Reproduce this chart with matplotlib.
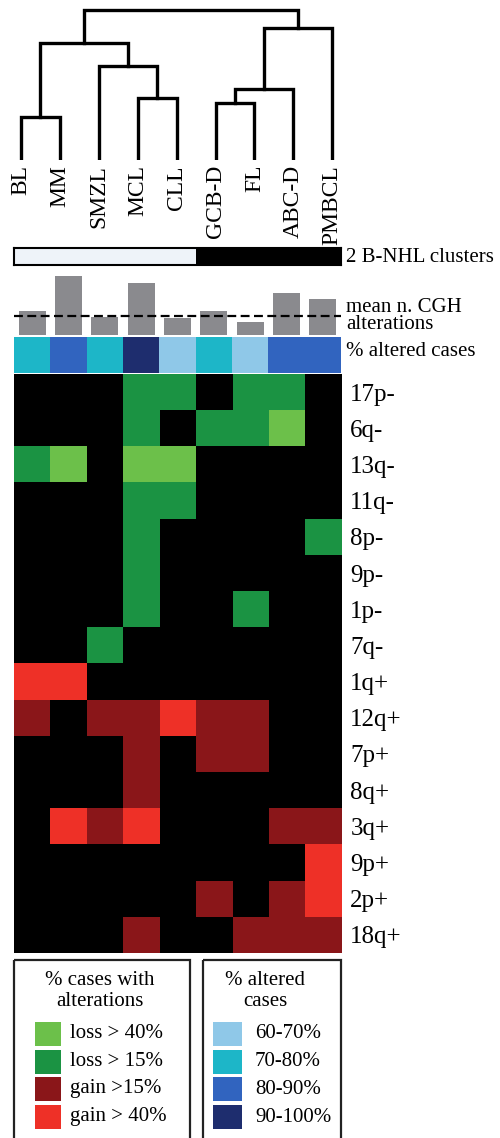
import numpy as np
import matplotlib
matplotlib.use("Agg")
import matplotlib.pyplot as plt
from matplotlib.colors import ListedColormap
from matplotlib.patches import Rectangle

W, H = 500, 1138
SERIF = ["Liberation Serif", "DejaVu Serif"]

subtypes = ["BL", "MM", "SMZL", "MCL", "CLL", "GCB-D", "FL", "ABC-D", "PMBCL"]

# dendrogram merges: (left node, right node, height); node ids >= 9 are earlier merges
merges = [
    (0, 1, 43),
    (3, 4, 62),
    (2, 10, 94),
    (9, 11, 117),
    (5, 6, 57),
    (13, 7, 71),
    (14, 8, 132),
    (12, 15, 150),
]

clusters = [0, 0, 0, 0, 0, 1, 1, 1, 1]
mean_cgh = [3.7, 9.1, 2.8, 8.0, 2.6, 3.7, 2.0, 6.5, 5.5]
mean_line = 2.9

# 0: 60-70%, 1: 70-80%, 2: 80-90%, 3: 90-100%
altered_class = [1, 2, 1, 3, 0, 1, 0, 2, 2]
altered_labels = ["60-70%", "70-80%", "80-90%", "90-100%"]
altered_colors = ["#8fc8e8", "#1db6c8", "#3164bf", "#1e2d6e"]

alterations = ["17p-", "6q-", "13q-", "11q-", "8p-", "9p-", "1p-", "7q-",
               "1q+", "12q+", "7p+", "8q+", "3q+", "9p+", "2p+", "18q+"]
# 0: none, 1: loss > 40%, 2: loss > 15%, 3: gain > 15%, 4: gain > 40%
matrix = [
    [0, 0, 0, 2, 2, 0, 2, 2, 0],
    [0, 0, 0, 2, 0, 2, 2, 1, 0],
    [2, 1, 0, 1, 1, 0, 0, 0, 0],
    [0, 0, 0, 2, 2, 0, 0, 0, 0],
    [0, 0, 0, 2, 0, 0, 0, 0, 2],
    [0, 0, 0, 2, 0, 0, 0, 0, 0],
    [0, 0, 0, 2, 0, 0, 2, 0, 0],
    [0, 0, 2, 0, 0, 0, 0, 0, 0],
    [4, 4, 0, 0, 0, 0, 0, 0, 0],
    [3, 0, 3, 3, 4, 3, 3, 0, 0],
    [0, 0, 0, 3, 0, 3, 3, 0, 0],
    [0, 0, 0, 3, 0, 0, 0, 0, 0],
    [0, 4, 3, 4, 0, 0, 0, 3, 3],
    [0, 0, 0, 0, 0, 0, 0, 0, 4],
    [0, 0, 0, 0, 0, 3, 0, 3, 4],
    [0, 0, 0, 3, 0, 0, 3, 3, 3],
]
alt_labels = ["loss > 40%", "loss > 15%", "gain >15%", "gain > 40%"]
alt_colors = ["#000000", "#6cc04a", "#1b9343", "#8a1619", "#ee3027"]


def px_axes(fig, left, top, width, height):
    return fig.add_axes([left / W, 1 - (top + height) / H, width / W, height / H])


def dendro_segments(merges, n):
    pos = {i: (float(i), 0.0) for i in range(n)}
    segs = []
    for k, (a, b, h) in enumerate(merges):
        xa, ya = pos[a]
        xb, yb = pos[b]
        segs.append(([xa, xa, xb, xb], [ya, h, h, yb]))
        pos[n + k] = ((xa + xb) / 2, h)
    return segs


def main():
    plt.rcParams["font.family"] = SERIF
    fig = plt.figure(figsize=(W / 100, H / 100), dpi=100)

    # dendrogram
    ax_d = px_axes(fig, 14, 5, 328, 155)
    for xs, ys in dendro_segments(merges, len(subtypes)):
        ax_d.plot(xs, ys, color="black", lw=2.4, solid_joinstyle="miter",
                  solid_capstyle="projecting")
    ax_d.set_xlim(-0.18, 8.25)
    ax_d.set_ylim(0, 155)
    ax_d.axis("off")
    for i, name in enumerate(subtypes):
        ax_d.text(i, -5, name, rotation=90, ha="center", va="top",
                  fontsize=17, transform=ax_d.transData)

    # cluster bar
    ax_c = px_axes(fig, 14, 248, 327, 17)
    ax_c.imshow([clusters], cmap=ListedColormap(["#eef3f9", "#000000"]),
                aspect="auto", interpolation="nearest")
    ax_c.set_xticks([])
    ax_c.set_yticks([])
    for s in ax_c.spines.values():
        s.set_linewidth(1.5)
    fig.text(346 / W, 1 - 257 / H, "2 B-NHL clusters", fontsize=15,
             va="center", ha="left")

    # mean number of CGH alterations
    ax_b = px_axes(fig, 14, 270, 327, 65)
    x = np.arange(len(subtypes))
    ax_b.bar(x, mean_cgh, width=0.75, color="#8a8a8e")
    ax_b.axhline(mean_line, color="black", ls=(0, (4, 2)), lw=1.6)
    ax_b.set_xlim(-0.5, len(subtypes) - 0.5)
    ax_b.set_ylim(0, 10)
    ax_b.axis("off")
    fig.text(346 / W, 1 - 316 / H, "mean n. CGH\nalterations", fontsize=15,
             va="center", linespacing=0.85)

    # % altered cases strip
    ax_s = px_axes(fig, 14, 337, 327, 36)
    ax_s.imshow([altered_class], cmap=ListedColormap(altered_colors),
                vmin=0, vmax=3, aspect="auto", interpolation="nearest")
    ax_s.axis("off")
    fig.text(346 / W, 1 - 352 / H, "% altered cases", fontsize=15, va="center")

    # heatmap
    ax_h = px_axes(fig, 14, 374, 328, 579)
    ax_h.imshow(np.array(matrix), cmap=ListedColormap(alt_colors), vmin=0,
                vmax=4, aspect="auto", interpolation="nearest")
    ax_h.set_xticks([])
    ax_h.yaxis.tick_right()
    ax_h.set_yticks(range(len(alterations)))
    ax_h.set_yticklabels(alterations, fontsize=18)
    ax_h.tick_params(axis="y", length=0, pad=6)
    for s in ax_h.spines.values():
        s.set_visible(False)

    # legends (overlay in pixel coordinates)
    ov = fig.add_axes([0, 0, 1, 1])
    ov.set_xlim(0, W)
    ov.set_ylim(H, 0)
    ov.axis("off")
    ov.add_patch(Rectangle((14, 960), 176, 200, fill=False, lw=1.6,
                           edgecolor="#222222"))
    ov.add_patch(Rectangle((203, 960), 138, 200, fill=False, lw=1.6,
                           edgecolor="#222222"))
    ov.text(100, 991, "% cases with\nalterations", ha="center", va="center",
            fontsize=15, linespacing=1.2)
    ov.text(265, 991, "% altered\ncases", ha="center", va="center",
            fontsize=15, linespacing=1.2)
    row_y = [1034, 1061.5, 1089, 1117]
    for k, lab in enumerate(alt_labels):
        y = row_y[k]
        ov.add_patch(Rectangle((35, y - 12), 26, 24, color=alt_colors[k + 1], lw=0))
        ov.text(70, y, lab, ha="left", va="center", fontsize=15)
    for k, lab in enumerate(altered_labels):
        y = row_y[k]
        ov.add_patch(Rectangle((213, y - 12), 29, 24, color=altered_colors[k], lw=0))
        ov.text(255, y, lab, ha="left", va="center", fontsize=15)

    fig.savefig("out.png", dpi=100, facecolor="white")
    plt.close(fig)


if __name__ == "__main__":
    main()
